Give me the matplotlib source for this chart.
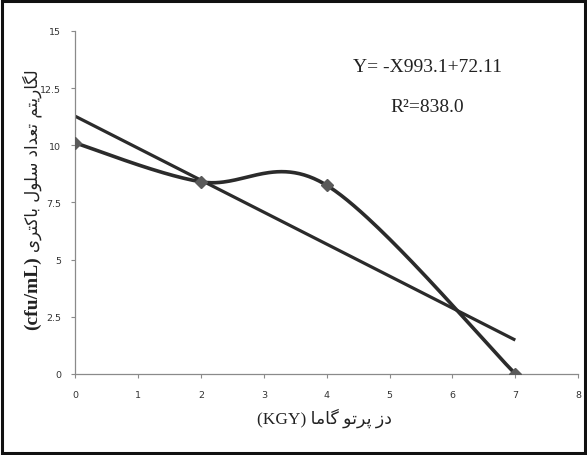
import numpy as np
import matplotlib.pyplot as plt
from matplotlib.patches import Rectangle

# data
dose = [0, 2, 4, 7]
log_count = [10.1, 8.4, 8.25, 0.0]
trend_slope = -1.399
trend_icept = 11.27
xticks = [0, 1, 2, 3, 4, 5, 6, 7, 8]
yticks = [0, 2.5, 5, 7.5, 10, 12.5, 15]
ytick_labels = ['0', '2.5', '5', '7.5', '10', '12.5', '15']
eq_text = 'Y= -X993.1+72.11'
r2_text = 'R\u00b2=838.0'
ylabel_fa = 'لگاریتم تعداد سلول باکتری'
ylabel_en = '(cfu/mL)'
xlabel_fa = 'دز پرتو گاما'
xlabel_en = '(KGY)'

# tiny arabic/persian shaper (matplotlib has no RTL layout)
FORMS = {
    'ا': ('\uFE8D', '\uFE8E', None, None),
    'ب': ('\uFE8F', '\uFE90', '\uFE91', '\uFE92'),
    'ت': ('\uFE95', '\uFE96', '\uFE97', '\uFE98'),
    'د': ('\uFEA9', '\uFEAA', None, None),
    'ر': ('\uFEAD', '\uFEAE', None, None),
    'ز': ('\uFEAF', '\uFEB0', None, None),
    'س': ('\uFEB1', '\uFEB2', '\uFEB3', '\uFEB4'),
    'ع': ('\uFEC9', '\uFECA', '\uFECB', '\uFECC'),
    'ل': ('\uFEDD', '\uFEDE', '\uFEDF', '\uFEE0'),
    'م': ('\uFEE1', '\uFEE2', '\uFEE3', '\uFEE4'),
    'و': ('\uFEED', '\uFEEE', None, None),
    'پ': ('\uFB56', '\uFB57', '\uFB58', '\uFB59'),
    'ک': ('\uFB8E', '\uFB8F', '\uFB90', '\uFB91'),
    'گ': ('\uFB92', '\uFB93', '\uFB94', '\uFB95'),
    'ی': ('\uFBFC', '\uFBFD', '\uFBFE', '\uFBFF'),
}


def shape(s):
    out = []
    for i, c in enumerate(s):
        if c not in FORMS:
            out.append(c)
            continue
        iso, fin, ini, med = FORMS[c]
        prev = s[i - 1] if i > 0 else None
        nxt = s[i + 1] if i < len(s) - 1 else None
        jp = prev in FORMS and FORMS[prev][2] is not None
        jn = nxt in FORMS and ini is not None
        if jp and jn:
            out.append(med)
        elif jp:
            out.append(fin)
        elif jn:
            out.append(ini)
        else:
            out.append(iso)
    return ''.join(reversed(out))


def smooth(xs, ys, n=60):
    # excel-like smoothed line: catmull-rom as cubic bezier
    P = np.column_stack([xs, ys]).astype(float)
    P = np.vstack([P[0], P, P[-1]])
    t = np.linspace(0, 1, n)[:, None]
    segs = []
    for i in range(1, len(P) - 2):
        p0, p3 = P[i], P[i + 1]
        p1 = p0 + (P[i + 1] - P[i - 1]) / 6
        p2 = p3 - (P[i + 2] - P[i]) / 6
        b = (1 - t) ** 3 * p0 + 3 * (1 - t) ** 2 * t * p1 + 3 * (1 - t) * t ** 2 * p2 + t ** 3 * p3
        segs.append(b)
    b = np.vstack(segs)
    return b[:, 0], b[:, 1]


fig = plt.figure(figsize=(5.87, 4.56), dpi=100)
ax = fig.add_axes([0.128, 0.178, 0.857, 0.752])

sx, sy = smooth(dose, log_count)
ax.plot(sx, sy, color='#2b2b2b', lw=2.6, solid_capstyle='butt', zorder=3)
ax.plot(dose, log_count, ls='none', marker='D', ms=6, color='#5a5a5a', zorder=4)

tx = np.array([dose[0], dose[-1]])
ax.plot(tx, trend_icept + trend_slope * tx, color='#2b2b2b', lw=2.3, solid_capstyle='butt', zorder=2)

ax.set_xlim(0, 8)
ax.set_ylim(0, 15)
ax.set_xticks(xticks)
ax.set_yticks(yticks)
ax.set_yticklabels(ytick_labels)
for s in ['top', 'right']:
    ax.spines[s].set_visible(False)
for s in ['left', 'bottom']:
    ax.spines[s].set_color('#8a8a8a')
    ax.spines[s].set_linewidth(0.9)
ax.tick_params(direction='out', length=3, width=0.8, color='#8a8a8a',
               labelsize=6.8, labelcolor='#333333')
ax.tick_params(axis='x', pad=9)
ax.tick_params(axis='y', pad=7)

serif = ['Liberation Serif', 'DejaVu Sans']
fig.text(0.728, 0.853, eq_text, ha='center', va='center',
         fontsize=14, family=serif, color='#222222')
fig.text(0.728, 0.765, r2_text, ha='center', va='center',
         fontsize=14, family=serif, color='#222222')

# x label: latin in serif, persian falls back to DejaVu Sans
fig.text(0.552, 0.083, xlabel_en + ' ' + shape(xlabel_fa), ha='center', va='center',
         fontsize=12.5, family=serif, color='#222222')

# y label in two parts
t1 = fig.text(0.055, 0.276, ylabel_en, rotation=90, ha='center', va='bottom',
              fontsize=14, family=['Liberation Serif'], weight='bold', color='#222222')
fig.canvas.draw()
ax.annotate(shape(ylabel_fa), xy=(0.5, 1.0), xycoords=t1, xytext=(0, 3),
            textcoords='offset points', rotation=90, ha='center', va='bottom',
            fontsize=12, family=['DejaVu Sans'], color='#222222')

fig.patches.append(Rectangle((0.004, 0.005), 0.992, 0.99, transform=fig.transFigure,
                             fill=False, edgecolor='#111111', lw=2.2))

fig.savefig('out.png', dpi=100)
